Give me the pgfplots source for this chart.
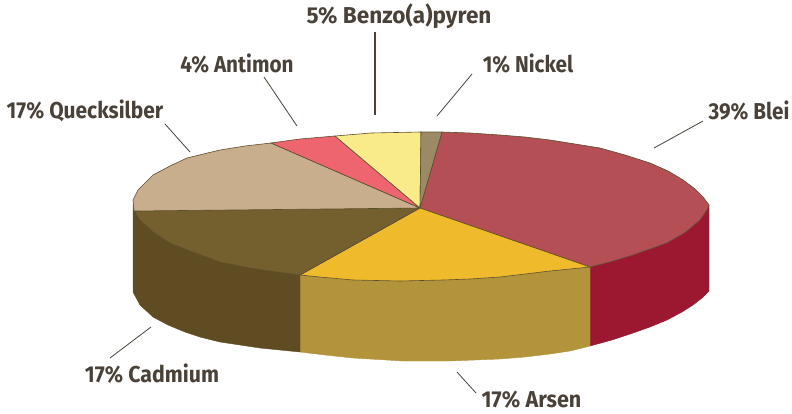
\documentclass[border=0pt]{standalone}
\usepackage{fontspec}
\setmainfont[FakeStretch=0.9]{Fira Sans}
\usepackage{pgfplots}
\pgfplotsset{compat=1.18}
\definecolor{tx}{HTML}{4A4238}
\definecolor{ld}{HTML}{4A4238}
\definecolor{wBlei}{HTML}{9B1830}
\definecolor{wArsen}{HTML}{B3943A}
\definecolor{wCad}{HTML}{5F4C22}
\definecolor{tBlei}{HTML}{B34F55}
\definecolor{tArsen}{HTML}{F0BA2D}
\definecolor{tCad}{HTML}{74602E}
\definecolor{tQue}{HTML}{C9AE8E}
\definecolor{tAnt}{HTML}{EE6570}
\definecolor{tBen}{HTML}{F9EA8A}
\definecolor{tNic}{HTML}{9C8A66}
\definecolor{edge}{HTML}{5A4E2C}
\tikzset{lab/.style={font=\fontsize{23}{24}\selectfont\bfseries,text=tx,inner sep=0pt,anchor=center}}
\begin{document}
\begin{tikzpicture}
\begin{axis}[
  width=792pt,height=413pt,scale only axis,
  xmin=0,xmax=792,ymin=0,ymax=413,y dir=reverse,
  axis lines=none,clip=false,
  every axis plot/.append style={mark=none}
]
% page extent
\addplot[draw=none] coordinates {(0,0)(792,413)};
% side walls
\addplot[fill=wBlei,draw=wBlei,line width=0.4pt] coordinates {(709,205)(707,210)(700,220)(686,232)(667,243)(650,249)(633,255)(610,262)(590,267)(590,346)(612,340)(633,333)(650,327)(667,320)(682,312)(693,305)(702,298)(709,291)(709,205)};
\addplot[fill=wArsen,draw=wArsen,line width=0.4pt] coordinates {(590,267)(570,269)(550,271)(525,274)(500,277)(470,279)(443,280)(400,281)(353,280)(320,277)(300,275)(300,352)(325,355)(353,358)(403,361)(450,361)(500,359)(525,357)(550,354)(570,351)(590,346)(590,267)};
\addplot[fill=wCad,draw=wCad,line width=0.4pt] coordinates {(300,275)(277,272)(250,268)(220,262)(190,251)(170,243)(153,232)(140,220)(134,211)(133,205)(133,292)(140,305)(153,317)(168,325)(185,332)(200,337)(220,342)(260,348)(300,352)(300,275)};
% top face
\addplot[fill=tBlei,draw=edge,line width=0.6pt] coordinates {(420,208)(442,132)(470,133)(500,135)(525,137)(550,140)(575,144)(600,148)(625,155)(650,163)(668,171)(683,180)(695,189)(703,197)(709,205)(707,210)(700,220)(686,232)(667,243)(650,249)(633,255)(610,262)(590,267)(420,208)};
\addplot[fill=tArsen,draw=edge,line width=0.6pt] coordinates {(420,208)(590,267)(570,269)(550,271)(525,274)(500,277)(470,279)(443,280)(400,281)(353,280)(320,277)(300,275)(420,208)};
\addplot[fill=tCad,draw=edge,line width=0.6pt] coordinates {(420,208)(300,275)(277,272)(250,268)(220,262)(190,251)(170,243)(153,232)(140,220)(134,211)(420,208)};
\addplot[fill=tQue,draw=edge,line width=0.6pt] coordinates {(420,208)(134,211)(133,200)(138,190)(153,175)(170,166)(187,158)(220,150)(245,146)(271,143)(420,208)};
\addplot[fill=tAnt,draw=edge,line width=0.6pt] coordinates {(420,208)(271,143)(300,139)(335,136)(420,208)};
\addplot[fill=tBen,draw=edge,line width=0.6pt] coordinates {(420,208)(335,136)(371,133)(421,132)(420,208)};
\addplot[fill=tNic,draw=edge,line width=0.6pt] coordinates {(420,208)(421,132)(442,132)(420,208)};
% leader lines
\addplot[ld,line width=1.2pt] coordinates {(375,32)(375,115)};
\addplot[ld,line width=0.8pt] coordinates {(472,74)(437,116)};
\addplot[ld,line width=0.8pt] coordinates {(264,77)(297,126)};
\addplot[ld,line width=0.8pt] coordinates {(165,124)(190,152)};
\addplot[ld,line width=0.8pt] coordinates {(703,121)(654,148)};
\addplot[ld,line width=0.8pt] coordinates {(151,327)(110,358)};
\addplot[ld,line width=0.8pt] coordinates {(457,372)(476,393)};
% labels
\node[lab,xscale=1.09] at (axis cs:399,16) {5\% Benzo(a)pyren};
\node[lab] at (axis cs:237,64) {4\% Antimon};
\node[lab] at (axis cs:528,64) {1\% Nickel};
\node[lab,xscale=1.01] at (axis cs:85,111) {17\% Quecksilber};
\node[lab] at (axis cs:749,111) {39\% Blei};
\node[lab,xscale=1.03] at (axis cs:152,374) {17\% Cadmium};
\node[lab,xscale=1.04] at (axis cs:531.5,400) {17\% Arsen};
\end{axis}
\end{tikzpicture}
\end{document}
